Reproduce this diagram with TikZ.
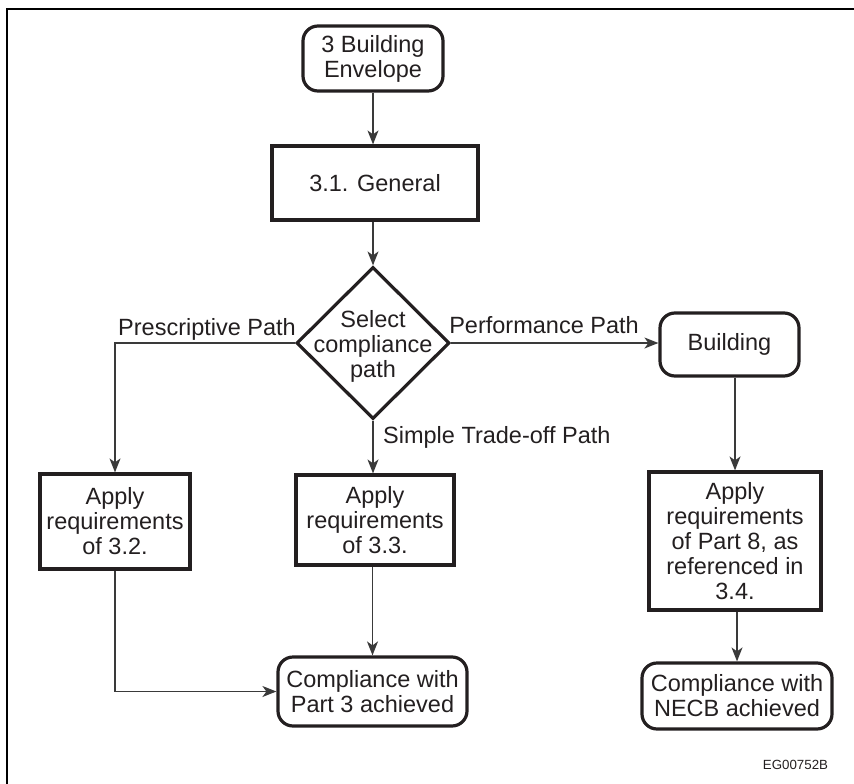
\documentclass[tikz,border=0pt]{standalone}
\usepackage{fontspec}
\setmainfont{Liberation Sans}
\usetikzlibrary{shapes.geometric,arrows.meta}
\definecolor{ink}{HTML}{231F20}
\definecolor{wire}{HTML}{3A3A3A}
\tikzset{
  txt/.style={font=\fontsize{23.5pt}{25pt}\selectfont, text=ink, align=center, inner sep=0pt},
  box/.style={txt, draw=ink, line width=3.2pt, rectangle},
  rbox/.style={box, rounded corners=15pt},
  lbl/.style={font=\fontsize{23.5pt}{25pt}\selectfont, text=ink, inner sep=0pt},
  wirearrow/.style={draw=wire, line width=1.3pt, -{Stealth[length=14pt,width=11pt,inset=4pt]}},
}
\begin{document}
\begin{tikzpicture}[x=1pt,y=-1pt]
\useasboundingbox (0,0) rectangle (854,784);
% frame (top and left edges)
\draw[line width=2pt, black] (7,784) -- (7,9) -- (854,9);

\node[rbox, minimum width=140pt, minimum height=65pt] (env) at (373,58.5) {3 Building\\Envelope};
\node[box, minimum width=206pt, minimum height=74pt] (gen) at (375,183) {3.1. General};
\node[diamond, draw=ink, line width=3.2pt, minimum width=153pt, minimum height=152pt, inner sep=0pt] (sel) at (373,343) {};
\node[txt] (seltxt) at (373,346) {Select\\compliance\\path};
\node[box, minimum width=150pt, minimum height=95pt] (a32) at (115,521.5) {Apply\\requirements\\of 3.2.};
\node[box, minimum width=158pt, minimum height=90pt] (a33) at (375,520) {Apply\\requirements\\of 3.3.};
\node[rbox, minimum width=189pt, minimum height=69pt] (c3) at (372.5,691.5) {Compliance with\\Part 3 achieved};
\node[rbox, minimum width=139pt, minimum height=63pt] (bld) at (729.5,344.5) {Building};
\node[box, minimum width=172pt, minimum height=138pt] (a8) at (735,541) {Apply\\requirements\\of Part 8, as\\referenced in\\3.4.};
\node[rbox, minimum width=190pt, minimum height=66pt] (cn) at (737,696) {Compliance with\\NECB achieved};

\node[lbl, anchor=base] (lpre) at (207,335) {Prescriptive Path};
\node[lbl, anchor=base] (lperf) at (544,333) {Performance Path};
\node[lbl, anchor=base west] (lsimp) at (383,443) {Simple Trade-off Path};
\node[font=\fontsize{13.3pt}{15pt}\selectfont, text=ink, inner sep=0pt, anchor=base] (code) at (795.5,769) {EG00752B};

\draw[wirearrow] (env.south) -- (env.south |- gen.north);
\draw[wirearrow] (sel.north |- gen.south) -- (sel.north);
\draw[wirearrow] (sel.west) -| (a32.north);
\draw[wirearrow] (sel.east) -- (sel.east -| bld.west);
\draw[wirearrow] (sel.south) -- (sel.south |- a33.north);
\draw[wirearrow] (a32.south) |- (c3.west);
\draw[wirearrow] (a33.south -| c3.north) -- (c3.north);
\draw[wirearrow] (a8.north |- bld.south) -- (a8.north);
\draw[wirearrow] (a8.south -| cn.north) -- (cn.north);
\end{tikzpicture}
\end{document}
